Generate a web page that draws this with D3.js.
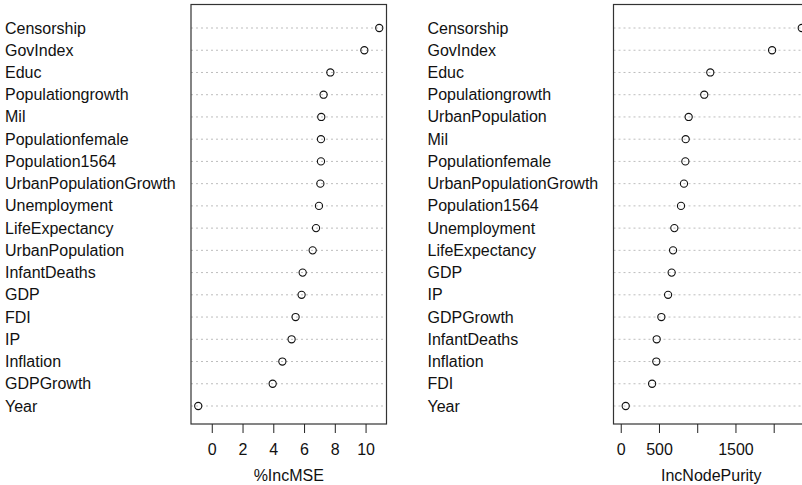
<!DOCTYPE html>
<html>
<head>
<meta charset="utf-8">
<script src="https://cdn.jsdelivr.net/npm/d3@7"></script>
<style>
  body { margin: 0; background: #fff; }
  svg { display: block; font-family: "Liberation Sans", Arial, sans-serif; }
</style>
</head>
<body>
<svg id="chart" width="802" height="485"></svg>
<script>
// %IncMSE panel, top to bottom
const mseVars = ["Censorship", "GovIndex", "Educ", "Populationgrowth", "Mil", "Populationfemale",
    "Population1564", "UrbanPopulationGrowth", "Unemployment", "LifeExpectancy", "UrbanPopulation",
    "InfantDeaths", "GDP", "FDI", "IP", "Inflation", "GDPGrowth", "Year"];
const mseValues = [10.89, 9.92, 7.71, 7.27, 7.12, 7.10, 7.10, 7.06, 6.97, 6.78, 6.56,
    5.91, 5.84, 5.45, 5.19, 4.59, 3.96, -0.88];
const mseTicks = [0, 2, 4, 6, 8, 10];

// IncNodePurity panel, top to bottom
const purityVars = ["Censorship", "GovIndex", "Educ", "Populationgrowth", "UrbanPopulation", "Mil",
    "Populationfemale", "UrbanPopulationGrowth", "Population1564", "Unemployment", "LifeExpectancy",
    "GDP", "IP", "GDPGrowth", "InfantDeaths", "Inflation", "FDI", "Year"];
const purityValues = [2367, 1979, 1171, 1092, 888, 849, 845, 827, 788, 701, 684,
    666, 619, 531, 470, 465, 410, 65];
const purityTicks = [0, 500, 1000, 1500, 2000];
const purityLabels = [0, 500, 1500];

const svg = d3.select("#chart");
const boxTop = 4.5, boxBottom = 424, boxWidth = 195.5;

function drawPanel(vars, values, opts) {
    const g = svg.append("g");
    let lo = opts.fromZero ? 0 : d3.min(values);
    let hi = d3.max(values);
    let pad = (hi - lo) * 0.04;

    const x = d3.scaleLinear()
        .domain([lo - pad, hi + pad])
        .range([opts.left, opts.left + boxWidth]);
    const y = d3.scalePoint()
        .domain(vars)
        .range([28, 406]);

    // row labels
    g.selectAll(".lab")
        .data(vars)
        .join("text")
        .attr("x", opts.labelX)
        .attr("y", d => y(d))
        .attr("dominant-baseline", "central")
        .attr("font-size", 16)
        .attr("fill", "#111")
        .text(d => d);

    // dotted guides
    g.selectAll(".guide")
        .data(vars)
        .join("line")
        .attr("x1", opts.left)
        .attr("x2", opts.left + boxWidth)
        .attr("y1", d => y(d))
        .attr("y2", d => y(d))
        .attr("stroke", "#bdbdbd")
        .attr("stroke-dasharray", "2,3");

    // points
    g.selectAll(".pt")
        .data(values)
        .join("circle")
        .attr("cx", d => x(d))
        .attr("cy", (d, i) => y(vars[i]))
        .attr("r", 3.6)
        .attr("fill", "none")
        .attr("stroke", "#111")
        .attr("stroke-width", 1.1);

    // box
    g.append("rect")
        .attr("x", opts.left)
        .attr("y", boxTop)
        .attr("width", boxWidth)
        .attr("height", boxBottom - boxTop)
        .attr("fill", "none")
        .attr("stroke", "#333")
        .attr("stroke-width", 1.2);

    // axis
    g.append("g")
        .attr("transform", `translate(0,${boxBottom})`)
        .call(d3.axisBottom(x)
            .tickValues(opts.ticks)
            .tickSize(9)
            .tickPadding(11)
            .tickFormat(d => opts.shown.includes(d) ? d : ""))
        .call(a => a.select(".domain").remove())
        .call(a => a.selectAll(".tick line").attr("stroke", "#222"))
        .call(a => a.selectAll(".tick text")
            .attr("font-size", 16)
            .attr("font-family", "Liberation Sans, Arial, sans-serif")
            .attr("fill", "#111"));

    g.append("text")
        .attr("x", opts.left + boxWidth / 2)
        .attr("y", 481)
        .attr("text-anchor", "middle")
        .attr("font-size", 16)
        .attr("fill", "#111")
        .text(opts.title);
}

drawPanel(mseVars, mseValues, {
    left: 191, labelX: 5, fromZero: false,
    ticks: mseTicks, shown: mseTicks, title: "%IncMSE"
});
drawPanel(purityVars, purityValues, {
    left: 613.5, labelX: 427.5, fromZero: true,
    ticks: purityTicks, shown: purityLabels, title: "IncNodePurity"
});
</script>
</body>
</html>
